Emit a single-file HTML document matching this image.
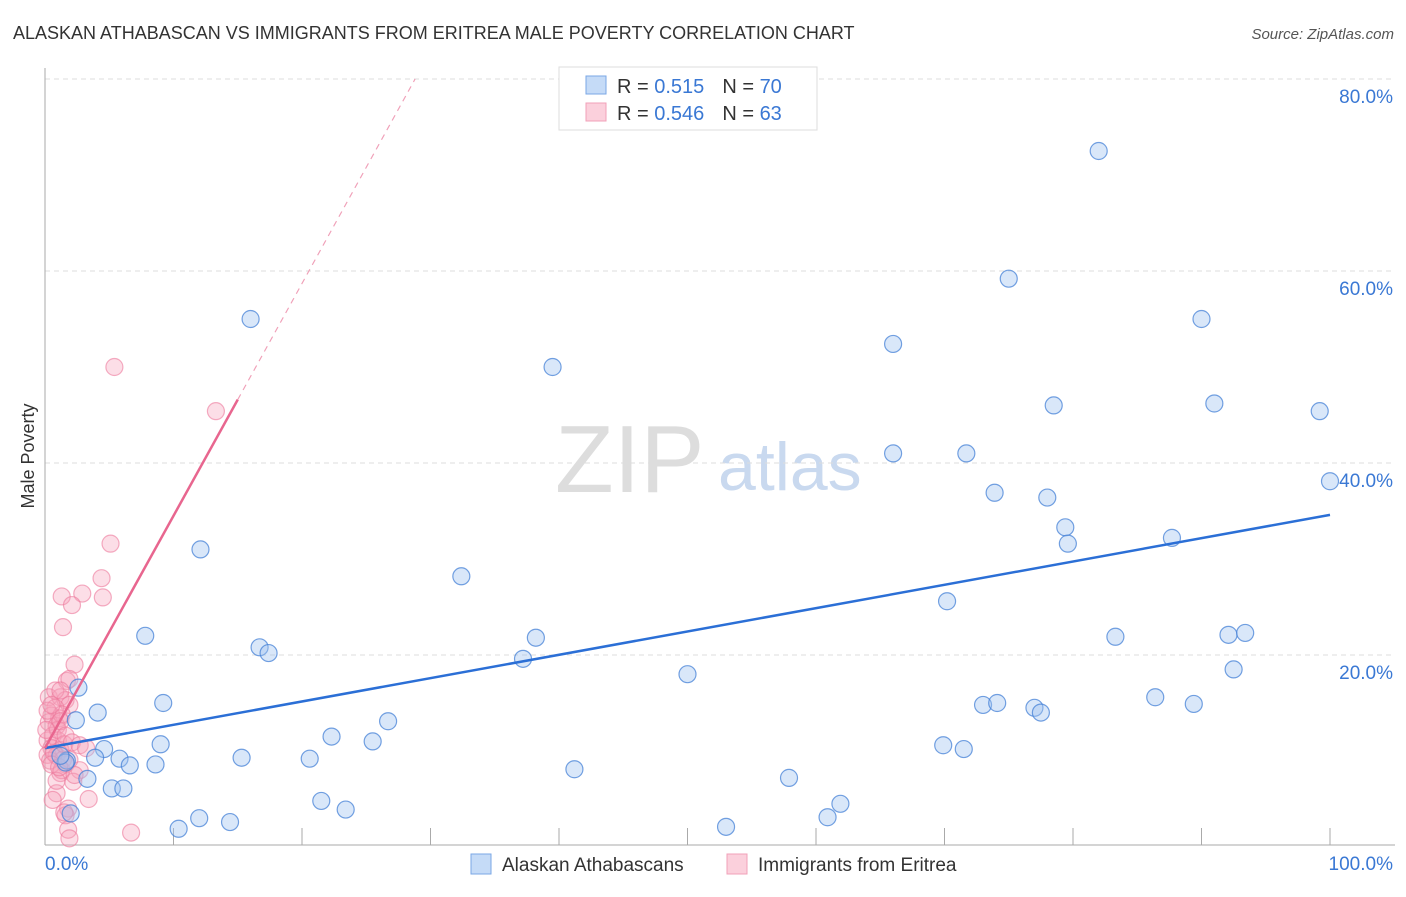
<!DOCTYPE html>
<html><head><meta charset="utf-8"><style>
body{margin:0;background:#fff;font-family:"Liberation Sans",sans-serif}
svg text{font-family:"Liberation Sans",sans-serif}
</style></head><body>
<svg width="1406" height="892" viewBox="0 0 1406 892">
<text x="13" y="39" font-size="18" fill="#333">ALASKAN ATHABASCAN VS IMMIGRANTS FROM ERITREA MALE POVERTY CORRELATION CHART</text>
<text x="1394" y="39" font-size="15" fill="#555" font-style="italic" text-anchor="end">Source: ZipAtlas.com</text>
<text x="34" y="456" font-size="18" fill="#333" transform="rotate(-90 34 456)" text-anchor="middle">Male Poverty</text>
<text x="555" y="492" font-size="96" fill="#ddd" font-family="Liberation Serif">ZIP</text>
<text x="718" y="490" font-size="68" fill="#c9d9ef">atlas</text>
<g id="grid"></g><g id="axes"></g><g id="pink"></g><g id="blue"></g><g id="lines"></g>
<g>
<rect x="559" y="67" width="258" height="63" fill="#fff" stroke="#ddd"/>
<rect x="586" y="76" width="20" height="18" fill="#c5dbf7" stroke="#7aa7e6"/>
<rect x="586" y="103" width="20" height="18" fill="#fbd0dc" stroke="#f1a0b8"/>
<text x="617" y="93" font-size="20" fill="#333">R = <tspan fill="#3a78d4">0.515</tspan><tspan dx="18">N = </tspan><tspan fill="#3a78d4">70</tspan></text>
<text x="617" y="120" font-size="20" fill="#333">R = <tspan fill="#3a78d4">0.546</tspan><tspan dx="18">N = </tspan><tspan fill="#3a78d4">63</tspan></text>
</g>
<g>
<rect x="471" y="854" width="20" height="20" fill="#c5dbf7" stroke="#7aa7e6"/>
<text x="502" y="871" font-size="19" fill="#333">Alaskan Athabascans</text>
<rect x="727" y="854" width="20" height="20" fill="#fbd0dc" stroke="#f1a0b8"/>
<text x="758" y="871" font-size="19" fill="#333">Immigrants from Eritrea</text>
</g>
</svg>
<script>
const yTicks=[20,40,60,80];
const xTickLabels=["0.0%","100.0%"];
const blueX=[82,75,16,90,66,39.5,78.5,91,99.2,66,71.7,100,73.9,78,79.4,79.6,87.7,12.1,32.4,70.2,7.8,38.2,83.3,92.1,93.4,16.7,17.4,37.2,50,92.5,2.6,9.2,4.1,86.4,89.4,73,74.1,77,77.5,26.7,2.4,22.3,25.5,9,69.9,71.5,4.6,3.9,5.8,15.3,20.6,1.7,6.6,8.6,41.2,3.3,57.9,5.2,6.1,21.5,61.9,23.4,60.9,12,14.4,10.4,53,1.6,1.2,2];
const blueY=[72.5,59.2,55,55,52.4,50,46,46.2,45.4,41,41,38.1,36.9,36.4,33.3,31.6,32.2,31.0,28.2,25.6,22.0,21.8,21.9,22.1,22.3,20.8,20.2,19.6,18.0,18.5,16.6,15.0,14.0,15.6,14.9,14.8,15.0,14.5,14.0,13.1,13.2,11.5,11.0,10.7,10.6,10.2,10.2,9.3,9.2,9.3,9.2,9.0,8.5,8.6,8.1,7.1,7.2,6.1,6.1,4.8,4.5,3.9,3.1,3.0,2.6,1.9,2.1,8.8,9.5,3.5];
const pinkX=[5.4,13.3,5.1,4.4,1.3,2.9,4.5,2.1,1.4,2.3,1.7,1.9,0.3,1.2,1.6,1.9,0.8,0.5,1.1,0.3,0.9,1.3,0.6,0.2,1,0.5,1.2,0.2,0.9,1.4,1.6,2.7,1.2,2.2,3.4,0.9,1.8,1.6,1.8,1.9,6.7,0.4,0.7,1,1.5,0.2,0.8,1.2,0.1,1.6,2.1,0.5,1.3,0.9,1.9,2.3,0.6,1.5,2.7,3.2,1.2,0.5,1.1];
const pinkY=[50,45.4,31.6,28,26.1,26.4,26,25.2,22.9,19,17.3,17.5,15.6,15.6,15.3,14.8,14.5,13.7,13.4,13,12.6,13.8,11.6,11.1,11.1,10.3,10.1,9.6,9.5,9.1,8.6,8.0,7.7,6.8,5.0,5.6,4.0,3.3,1.8,0.9,1.5,9.0,9.8,12.2,10.7,14.2,16.3,13.1,12.2,11.6,10.9,8.6,8.0,6.9,9.1,7.5,4.9,3.6,10.6,10.3,16.3,14.8,8.3];
const blueLine=[10.3,34.6];   // y at x=0 and x=100
const pinkLine=[10.3,2.42];   // intercept, slope
const pinkSolidEnd=15;
const NS="http://www.w3.org/2000/svg";
const X=v=>45+v*12.85, Y=v=>847-v*9.6;
function mk(p,t,a){const e=document.createElementNS(NS,t);for(const k in a)e.setAttribute(k,a[k]);document.getElementById(p).appendChild(e);return e;}
yTicks.forEach(t=>{
 const g=mk('grid','line',{x1:45,x2:1395,y1:Y(t),y2:Y(t),stroke:'#ddd','stroke-dasharray':'5,4'});
 
 
 const l=mk('grid','text',{x:1393,y:Y(t)+24,'font-size':19,fill:'#3a78d4','text-anchor':'end'});l.textContent=t.toFixed(1)+'%';
 
 
});
mk('axes','line',{x1:45,x2:45,y1:68,y2:845,stroke:'#aaa'});
mk('axes','line',{x1:45,x2:1395,y1:845,y2:845,stroke:'#aaa'});
for(let i=0;i<=10;i++)mk('axes','line',{x1:X(i*10),x2:X(i*10),y1:828,y2:845,stroke:'#aaa'});
const xl0=mk('axes','text',{x:45,y:870,'font-size':19,fill:'#3a78d4'});xl0.textContent=xTickLabels[0];


const xl1=mk('axes','text',{x:1393,y:870,'font-size':19,fill:'#3a78d4','text-anchor':'end'});xl1.textContent=xTickLabels[1];


pinkX.forEach((x,i)=>{const c=mk('pink','circle',{cx:X(x),cy:Y(pinkY[i]),r:8.5,fill:'rgba(246,160,185,0.35)',stroke:'rgba(236,120,155,0.6)','stroke-width':1.2});
 
 });
blueX.forEach((x,i)=>{const c=mk('blue','circle',{cx:X(x),cy:Y(blueY[i]),r:8.5,fill:'rgba(160,195,240,0.4)',stroke:'rgba(70,130,215,0.75)','stroke-width':1.2});
 
 });
const bl=mk('lines','line',{x1:X(0),y1:Y(blueLine[0]),x2:X(100),y2:Y(blueLine[1]),stroke:'#2b6fd6','stroke-width':2.5});


const pe=(80-pinkLine[0])/pinkLine[1];
const pd=mk('lines','line',{x1:X(pinkSolidEnd),y1:Y(pinkLine[0]+pinkLine[1]*pinkSolidEnd),x2:X(pe),y2:Y(80),stroke:'#f0a0b8','stroke-width':1.2,'stroke-dasharray':'6,5'});


const pl=mk('lines','line',{x1:X(0),y1:Y(pinkLine[0]),x2:X(pinkSolidEnd),y2:Y(pinkLine[0]+pinkLine[1]*pinkSolidEnd),stroke:'#e8668f','stroke-width':2.5});


</script>
</body></html>
